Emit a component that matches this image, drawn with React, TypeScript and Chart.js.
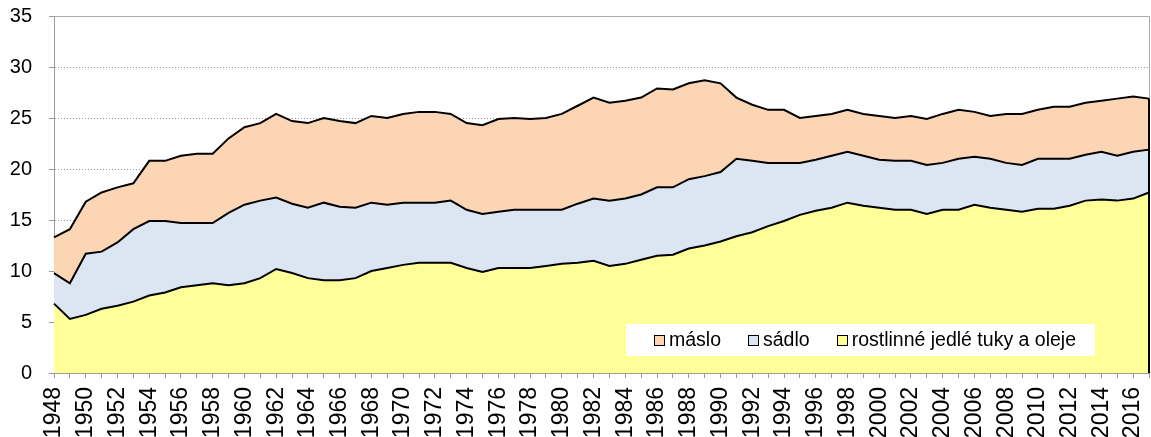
import React, { useEffect, useRef } from 'react';
import { Chart, registerables } from 'chart.js';

Chart.register(...registerables);

const years = [
  '1948', '1949', '1950', '1951', '1952', '1953', '1954', '1955', '1956', '1957',
  '1958', '1959', '1960', '1961', '1962', '1963', '1964', '1965', '1966', '1967',
  '1968', '1969', '1970', '1971', '1972', '1973', '1974', '1975', '1976', '1977',
  '1978', '1979', '1980', '1981', '1982', '1983', '1984', '1985', '1986', '1987',
  '1988', '1989', '1990', '1991', '1992', '1993', '1994', '1995', '1996', '1997',
  '1998', '1999', '2000', '2001', '2002', '2003', '2004', '2005', '2006', '2007',
  '2008', '2009', '2010', '2011', '2012', '2013', '2014', '2015', '2016', '2017',
];

const rostlinne = [
  6.8, 5.3, 5.7, 6.3, 6.6, 7.0, 7.6, 7.9, 8.4, 8.6,
  8.8, 8.6, 8.8, 9.3, 10.2, 9.8, 9.3, 9.1, 9.1, 9.3,
  10.0, 10.3, 10.6, 10.8, 10.8, 10.8, 10.3, 9.9, 10.3, 10.3,
  10.3, 10.5, 10.7, 10.8, 11.0, 10.5, 10.7, 11.1, 11.5, 11.6,
  12.2, 12.5, 12.9, 13.4, 13.8, 14.4, 14.9, 15.5, 15.9, 16.2,
  16.7, 16.4, 16.2, 16.0, 16.0, 15.6, 16.0, 16.0, 16.5, 16.2,
  16.0, 15.8, 16.1, 16.1, 16.4, 16.9, 17.0, 16.9, 17.1, 17.7,
];

const sadlo = [
  3.0, 3.5, 6.0, 5.6, 6.2, 7.1, 7.3, 7.0, 6.3, 6.1,
  5.9, 7.1, 7.7, 7.6, 7.0, 6.8, 6.9, 7.6, 7.2, 6.9,
  6.7, 6.2, 6.1, 5.9, 5.9, 6.1, 5.7, 5.7, 5.5, 5.7,
  5.7, 5.5, 5.3, 5.8, 6.1, 6.4, 6.4, 6.4, 6.7, 6.6,
  6.8, 6.8, 6.8, 7.6, 7.0, 6.2, 5.7, 5.1, 5.0, 5.1,
  5.0, 4.9, 4.7, 4.8, 4.8, 4.8, 4.6, 5.0, 4.7, 4.8,
  4.6, 4.6, 4.9, 4.9, 4.6, 4.5, 4.7, 4.4, 4.6, 4.2,
];

const maslo = [
  3.5, 5.3, 5.1, 5.8, 5.4, 4.5, 5.9, 5.9, 6.6, 6.8,
  6.8, 7.3, 7.6, 7.6, 8.2, 8.1, 8.3, 8.3, 8.4, 8.3,
  8.5, 8.5, 8.7, 8.9, 8.9, 8.5, 8.5, 8.7, 9.1, 9.0,
  8.9, 9.0, 9.4, 9.6, 9.9, 9.6, 9.6, 9.5, 9.7, 9.6,
  9.4, 9.4, 8.7, 6.0, 5.5, 5.2, 5.2, 4.4, 4.3, 4.1,
  4.1, 4.1, 4.3, 4.2, 4.4, 4.5, 4.8, 4.8, 4.4, 4.2,
  4.8, 5.0, 4.8, 5.1, 5.1, 5.1, 5.0, 5.6, 5.4, 5.0,
];

const seriesNames = ['rostlinné jedlé tuky a oleje', 'sádlo', 'máslo'];
const seriesColors = ['#FFFF99', '#DCE6F2', '#FCD5B4'];
const legendOrder = [2, 1, 0];

const FONT = '"Liberation Sans", Arial, sans-serif';
const AXIS_GRAY = '#9A9A9A';

const framePlugin = {
  id: 'frameAndLegend',
  afterDatasetsDraw(chart: any) {
    const { ctx, chartArea } = chart;
    const { left, right, top, bottom } = chartArea;
    const meta = chart.getDatasetMeta(2);
    const pts = meta.data;
    const last = pts[pts.length - 1];
    ctx.save();
    ctx.strokeStyle = '#ABABAB';
    ctx.lineWidth = 1;
    ctx.beginPath();
    ctx.moveTo(left, Math.round(top) + 0.5);
    ctx.lineTo(Math.round(right) + 0.5, Math.round(top) + 0.5);
    ctx.lineTo(Math.round(right) + 0.5, bottom);
    ctx.stroke();
    if (last) {
      ctx.strokeStyle = '#000';
      ctx.lineWidth = 2;
      ctx.beginPath();
      ctx.moveTo(last.x, last.y);
      ctx.lineTo(last.x, bottom);
      ctx.stroke();
    }
    ctx.restore();
  },
  afterDraw(chart: any) {
    const { ctx, chartArea } = chart;
    const { right, bottom } = chartArea;
    const boxW = 469;
    const boxH = 32;
    const bx = right - 54 - boxW;
    const by = bottom - 17 - boxH;
    ctx.save();
    ctx.fillStyle = '#FFFFFF';
    ctx.fillRect(bx, by, boxW, boxH);
    ctx.font = `19.5px ${FONT}`;
    ctx.textBaseline = 'middle';
    ctx.textAlign = 'left';
    let x = bx + 28;
    const cy = by + boxH / 2;
    legendOrder.forEach((idx) => {
      const sq = 10;
      ctx.fillStyle = seriesColors[idx];
      ctx.fillRect(Math.round(x) + 0.5, Math.round(cy - sq / 2) + 0.5, sq, sq);
      ctx.strokeStyle = '#000';
      ctx.lineWidth = 1;
      ctx.strokeRect(Math.round(x) + 0.5, Math.round(cy - sq / 2) + 0.5, sq, sq);
      x += sq + 5;
      ctx.fillStyle = '#000';
      ctx.fillText(seriesNames[idx], x, cy + 1);
      x += ctx.measureText(seriesNames[idx]).width + 27;
    });
    ctx.restore();
  },
};

export default function App() {
  const canvasRef = useRef<HTMLCanvasElement | null>(null);

  useEffect(() => {
    if (!canvasRef.current) return;
    const values = [rostlinne, sadlo, maslo];
    const chart = new Chart(canvasRef.current, {
      type: 'line',
      data: {
        labels: years,
        datasets: values.map((data, i) => ({
          label: seriesNames[i],
          data,
          backgroundColor: seriesColors[i],
          borderColor: '#000000',
          borderWidth: 2,
          fill: i === 0 ? 'origin' : '-1',
          pointRadius: 0,
          tension: 0,
        })),
      },
      options: {
        animation: false,
        responsive: true,
        maintainAspectRatio: false,
        layout: { padding: { top: 16, right: 2, left: 0, bottom: 0 } },
        plugins: {
          legend: { display: false },
          tooltip: { enabled: false },
        },
        scales: {
          x: {
            stacked: true,
            offset: false,
            grid: {
              drawOnChartArea: false,
              drawTicks: true,
              tickLength: 5,
              color: AXIS_GRAY,
              tickColor: AXIS_GRAY,
            },
            border: { color: AXIS_GRAY, width: 1 },
            ticks: {
              autoSkip: false,
              maxRotation: 90,
              minRotation: 90,
              padding: 9,
              color: '#000',
              font: { family: FONT, size: 23 },
              callback: (_v: any, i: number) => (i % 2 === 0 ? years[i] : ''),
            },
            afterFit: (s: any) => {
              s.height = 64;
              s.paddingLeft = 0;
              s.paddingRight = 0;
            },
          },
          y: {
            stacked: true,
            min: 0,
            max: 35,
            ticks: {
              stepSize: 5,
              padding: 17,
              color: '#000',
              font: { family: FONT, size: 20 },
            },
            grid: {
              color: AXIS_GRAY,
              tickColor: AXIS_GRAY,
              tickLength: 5,
              lineWidth: 1,
            },
            border: { color: AXIS_GRAY, width: 1, dash: [1, 2] },
            afterFit: (s: any) => {
              s.width = 54;
              s.paddingTop = 0;
              s.paddingBottom = 0;
            },
          },
        },
      },
      plugins: [framePlugin],
    });
    return () => chart.destroy();
  }, []);

  return (
    <div style={{ position: 'absolute', left: 0, top: 0, width: 1151, height: 437, background: '#fff' }}>
      <canvas ref={canvasRef} />
    </div>
  );
}
